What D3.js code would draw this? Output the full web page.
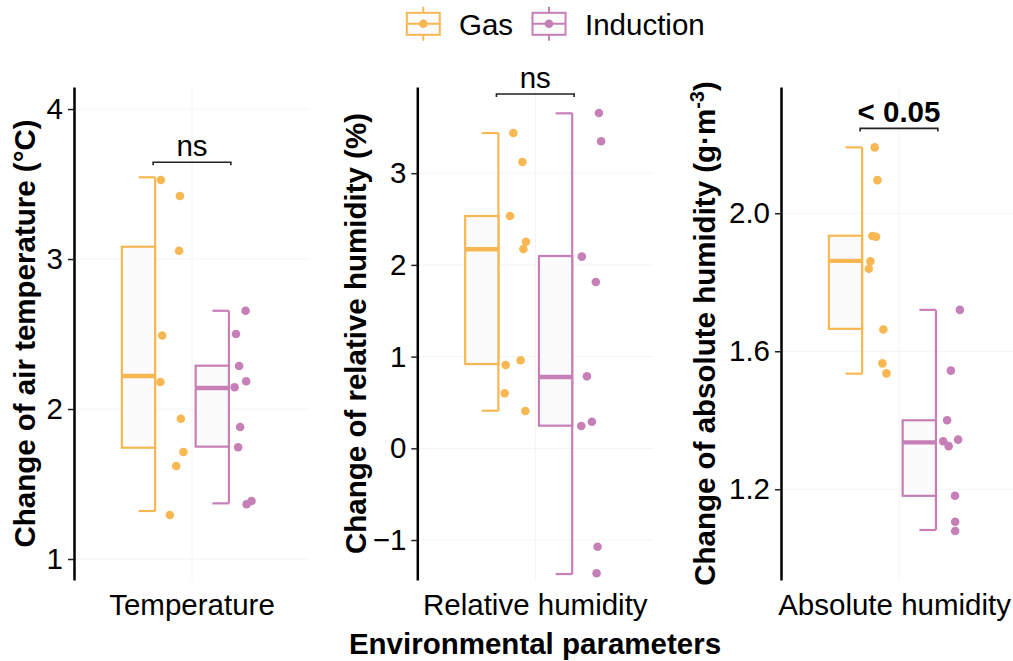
<!DOCTYPE html>
<html><head><meta charset="utf-8">
<script src="https://cdn.jsdelivr.net/npm/d3@7"></script>
<style>
body{margin:0;background:#fff}
svg{display:block;font-family:"Liberation Sans",Arial,Helvetica,sans-serif}
</style>
</head><body>
<svg id="chart" width="1013" height="661"></svg>
<script>
// ---------- data ----------
const categories = ["Temperature", "Relative humidity", "Absolute humidity"];
const groups = ["Gas", "Induction"];
const groupColors = ["#F7B853", "#C77FB7"];
const yTitles = ["Change of air temperature (°C)", "Change of relative humidity (%)", "Change of absolute humidity (g·m"];
const xTitle = "Environmental parameters";

// y-axis domains (bottom, top) and tick values
const yDomainTemp = [0.86, 4.147];
const yDomainRH = [-1.436, 3.94];
const yDomainAH = [0.937, 2.366];
const yTicksTemp = [1, 2, 3, 4];
const yTicksRH = [-1, 0, 1, 2, 3];
const yTicksAH = [1.2, 1.6, 2.0];

// observations
const gasTemp = [3.527, 3.42, 3.055, 2.49, 2.18, 1.935, 1.713, 1.62, 1.293];
const indTemp = [2.655, 2.50, 2.287, 2.185, 2.145, 1.88, 1.745, 1.365, 1.387];
const gasRH = [3.438, 3.122, 2.533, 2.253, 2.173, 0.908, 0.96, 0.60, 0.407];
const indRH = [3.657, 3.348, 2.09, 1.814, 0.785, 0.243, 0.29, -1.073, -1.363];
const gasAH = [2.191, 2.096, 1.934, 1.932, 1.861, 1.839, 1.663, 1.565, 1.536];
const indAH = [1.72, 1.544, 1.40, 1.344, 1.339, 1.325, 1.181, 1.106, 1.079];

// horizontal jitter of each observation (category units, right of group centre)
const jitGasTemp = [0.029, 0.126, 0.122, 0.036, 0.027, 0.131, 0.144, 0.107, 0.075];
const jitIndTemp = [0.085, 0.036, 0.052, 0.088, 0.029, 0.057, 0.047, 0.090, 0.115];
const jitGasRH = [0.076, 0.122, 0.059, 0.140, 0.127, 0.037, 0.113, 0.032, 0.137];
const jitIndRH = [0.136, 0.147, 0.049, 0.120, 0.075, 0.046, 0.100, 0.129, 0.124];
const jitGasAH = [0.064, 0.078, 0.052, 0.071, 0.042, 0.034, 0.108, 0.103, 0.124];
const jitIndAH = [0.122, 0.076, 0.057, 0.113, 0.037, 0.065, 0.097, 0.098, 0.098];

// box statistics [lower whisker, Q1, median, Q3, upper whisker]
const boxGasTemp = [1.32, 1.742, 2.22, 3.082, 3.545];
const boxIndTemp = [1.371, 1.749, 2.14, 2.289, 2.655];
const boxGasRH = [0.41, 0.919, 2.17, 2.533, 3.438];
const boxIndRH = [-1.371, 0.247, 0.778, 2.097, 3.653];
const boxGasAH = [1.535, 1.665, 1.862, 1.935, 2.191];
const boxIndAH = [1.082, 1.181, 1.336, 1.40, 1.72];

// comparison brackets
const bracketY = [3.645, 3.864, 2.246];
const pLabels = ["ns", "ns", "< 0.05"];
const pBold = [false, false, true];

// ---------- layout ----------
const svg = d3.select("#chart");
const W = +svg.attr("width");
const pTop = 87, pBottom = 580, panelW = 236;
const panelLeft = [74, 417.3, 781];
const titleX = [35, 366, 715];
const FS = 29.5;
const dodge = 0.1876, boxW = 0.169, capW = 0.084;
const gridCol = "#F2F4F2";

const panels = [
  {domain: yDomainTemp, ticks: yTicksTemp, fmt: d3.format("d"),
   pts: [gasTemp, indTemp], jit: [jitGasTemp, jitIndTemp], box: [boxGasTemp, boxIndTemp]},
  {domain: yDomainRH, ticks: yTicksRH, fmt: d => d3.format("d")(d).replace("-", "\u2212"),
   pts: [gasRH, indRH], jit: [jitGasRH, jitIndRH], box: [boxGasRH, boxIndRH]},
  {domain: yDomainAH, ticks: yTicksAH, fmt: d3.format(".1f"),
   pts: [gasAH, indAH], jit: [jitGasAH, jitIndAH], box: [boxGasAH, boxIndAH]}
];

panels.forEach((p, i) => {
  const L = panelLeft[i];
  const x = d3.scaleLinear().domain([0.4, 1.6]).range([L, L + panelW]);
  const y = d3.scaleLinear().domain(p.domain).range([pBottom, pTop]);
  const g = svg.append("g");

  // grid
  g.selectAll(".hg").data(p.ticks).join("line")
    .attr("x1", L).attr("x2", L + panelW)
    .attr("y1", d => y(d)).attr("y2", d => y(d))
    .attr("stroke", gridCol).attr("stroke-width", 1);
  g.append("line").attr("x1", x(1)).attr("x2", x(1)).attr("y1", pTop).attr("y2", pBottom)
    .attr("stroke", gridCol).attr("stroke-width", 1);

  // boxes
  groups.forEach((gr, k) => {
    const c = 1 + (k === 0 ? -dodge : dodge);
    const b = p.box[k];
    const col = groupColors[k];
    const bg = g.append("g");
    bg.append("line").attr("x1", x(c)).attr("x2", x(c)).attr("y1", y(b[0])).attr("y2", y(b[4]))
      .attr("stroke", col).attr("stroke-width", 2.2);
    [b[0], b[4]].forEach(v => {
      bg.append("line").attr("x1", x(c - capW)).attr("x2", x(c)).attr("y1", y(v)).attr("y2", y(v))
        .attr("stroke", col).attr("stroke-width", 2.2);
    });
    bg.append("rect").attr("x", x(c - boxW)).attr("width", x(c) - x(c - boxW))
      .attr("y", y(b[3])).attr("height", y(b[1]) - y(b[3]))
      .attr("fill", "#FBFBFB").attr("stroke", col).attr("stroke-width", 2.2);
    bg.append("line").attr("x1", x(c - boxW)).attr("x2", x(c)).attr("y1", y(b[2])).attr("y2", y(b[2]))
      .attr("stroke", col).attr("stroke-width", 4.4);
    // points
    bg.selectAll("circle").data(p.pts[k]).join("circle")
      .attr("cx", (d, j) => x(c + p.jit[k][j]))
      .attr("cy", d => y(d))
      .attr("r", 4.3).attr("fill", col);
  });

  // bracket
  const bx1 = x(1 - dodge - 0.01), bx2 = x(1 + dodge + 0.01), by = y(bracketY[i]);
  g.append("path").attr("d", `M${bx1},${by + 3}V${by}H${bx2}V${by + 3}`)
    .attr("fill", "none").attr("stroke", "#222").attr("stroke-width", 1.6);
  g.append("text").attr("x", (bx1 + bx2) / 2).attr("y", by - 6)
    .attr("text-anchor", "middle").attr("font-size", FS)
    .attr("font-weight", pBold[i] ? "bold" : "normal").attr("fill", "#000")
    .text(pLabels[i]);

  // axis
  const ax = g.append("g").attr("transform", `translate(${L},0)`)
    .call(d3.axisLeft(y).tickValues(p.ticks).tickFormat(p.fmt).tickSize(6).tickSizeOuter(0).tickPadding(5));
  ax.select(".domain").attr("stroke", "#000").attr("stroke-width", 2.5);
  ax.selectAll(".tick line").attr("stroke", "#222").attr("stroke-width", 1.5);
  ax.selectAll(".tick text").attr("font-size", FS).attr("fill", "#000")
    .attr("font-family", '"Liberation Sans",Arial,sans-serif');

  // category label (kept inside the picture)
  const cl = g.append("text").attr("x", x(1)).attr("y", 615).attr("text-anchor", "middle")
    .attr("font-size", FS).attr("fill", "#000").text(categories[i]);
  const half = cl.node().getComputedTextLength() / 2;
  if (x(1) + half > W - 2) cl.attr("x", W - 2 - half);

  // y title
  const t = g.append("text").attr("transform", `translate(${titleX[i]},${(pTop + pBottom) / 2}) rotate(-90)`)
    .attr("text-anchor", "middle").attr("font-size", FS).attr("font-weight", "bold").attr("fill", "#000");
  t.append("tspan").text(yTitles[i]);
  if (i === 2) {
    t.append("tspan").attr("font-size", 20).attr("dy", -11).text("-3");
    t.append("tspan").attr("dy", 11).text(")");
  }
});

// x title
svg.append("text").attr("x", 535).attr("y", 654).attr("text-anchor", "middle")
  .attr("font-size", FS).attr("font-weight", "bold").attr("fill", "#000").text(xTitle);

// legend
const legX = [423.3, 549];
const legTextX = [459, 585];
groups.forEach((gr, k) => {
  const col = groupColors[k];
  const cx = legX[k], cy = 23.8;
  const lg = svg.append("g");
  lg.append("line").attr("x1", cx).attr("x2", cx).attr("y1", cy - 17).attr("y2", cy + 17)
    .attr("stroke", col).attr("stroke-width", 2);
  lg.append("rect").attr("x", cx - 16.5).attr("y", cy - 11).attr("width", 33).attr("height", 22)
    .attr("fill", "#FBFBFB").attr("stroke", col).attr("stroke-width", 2);
  lg.append("line").attr("x1", cx - 16.5).attr("x2", cx + 16.5).attr("y1", cy).attr("y2", cy)
    .attr("stroke", col).attr("stroke-width", 2);
  lg.append("circle").attr("cx", cx).attr("cy", cy).attr("r", 4.3).attr("fill", col);
  lg.append("text").attr("x", legTextX[k]).attr("y", 35).attr("font-size", FS).attr("fill", "#000").text(gr);
});
</script>
</body></html>
